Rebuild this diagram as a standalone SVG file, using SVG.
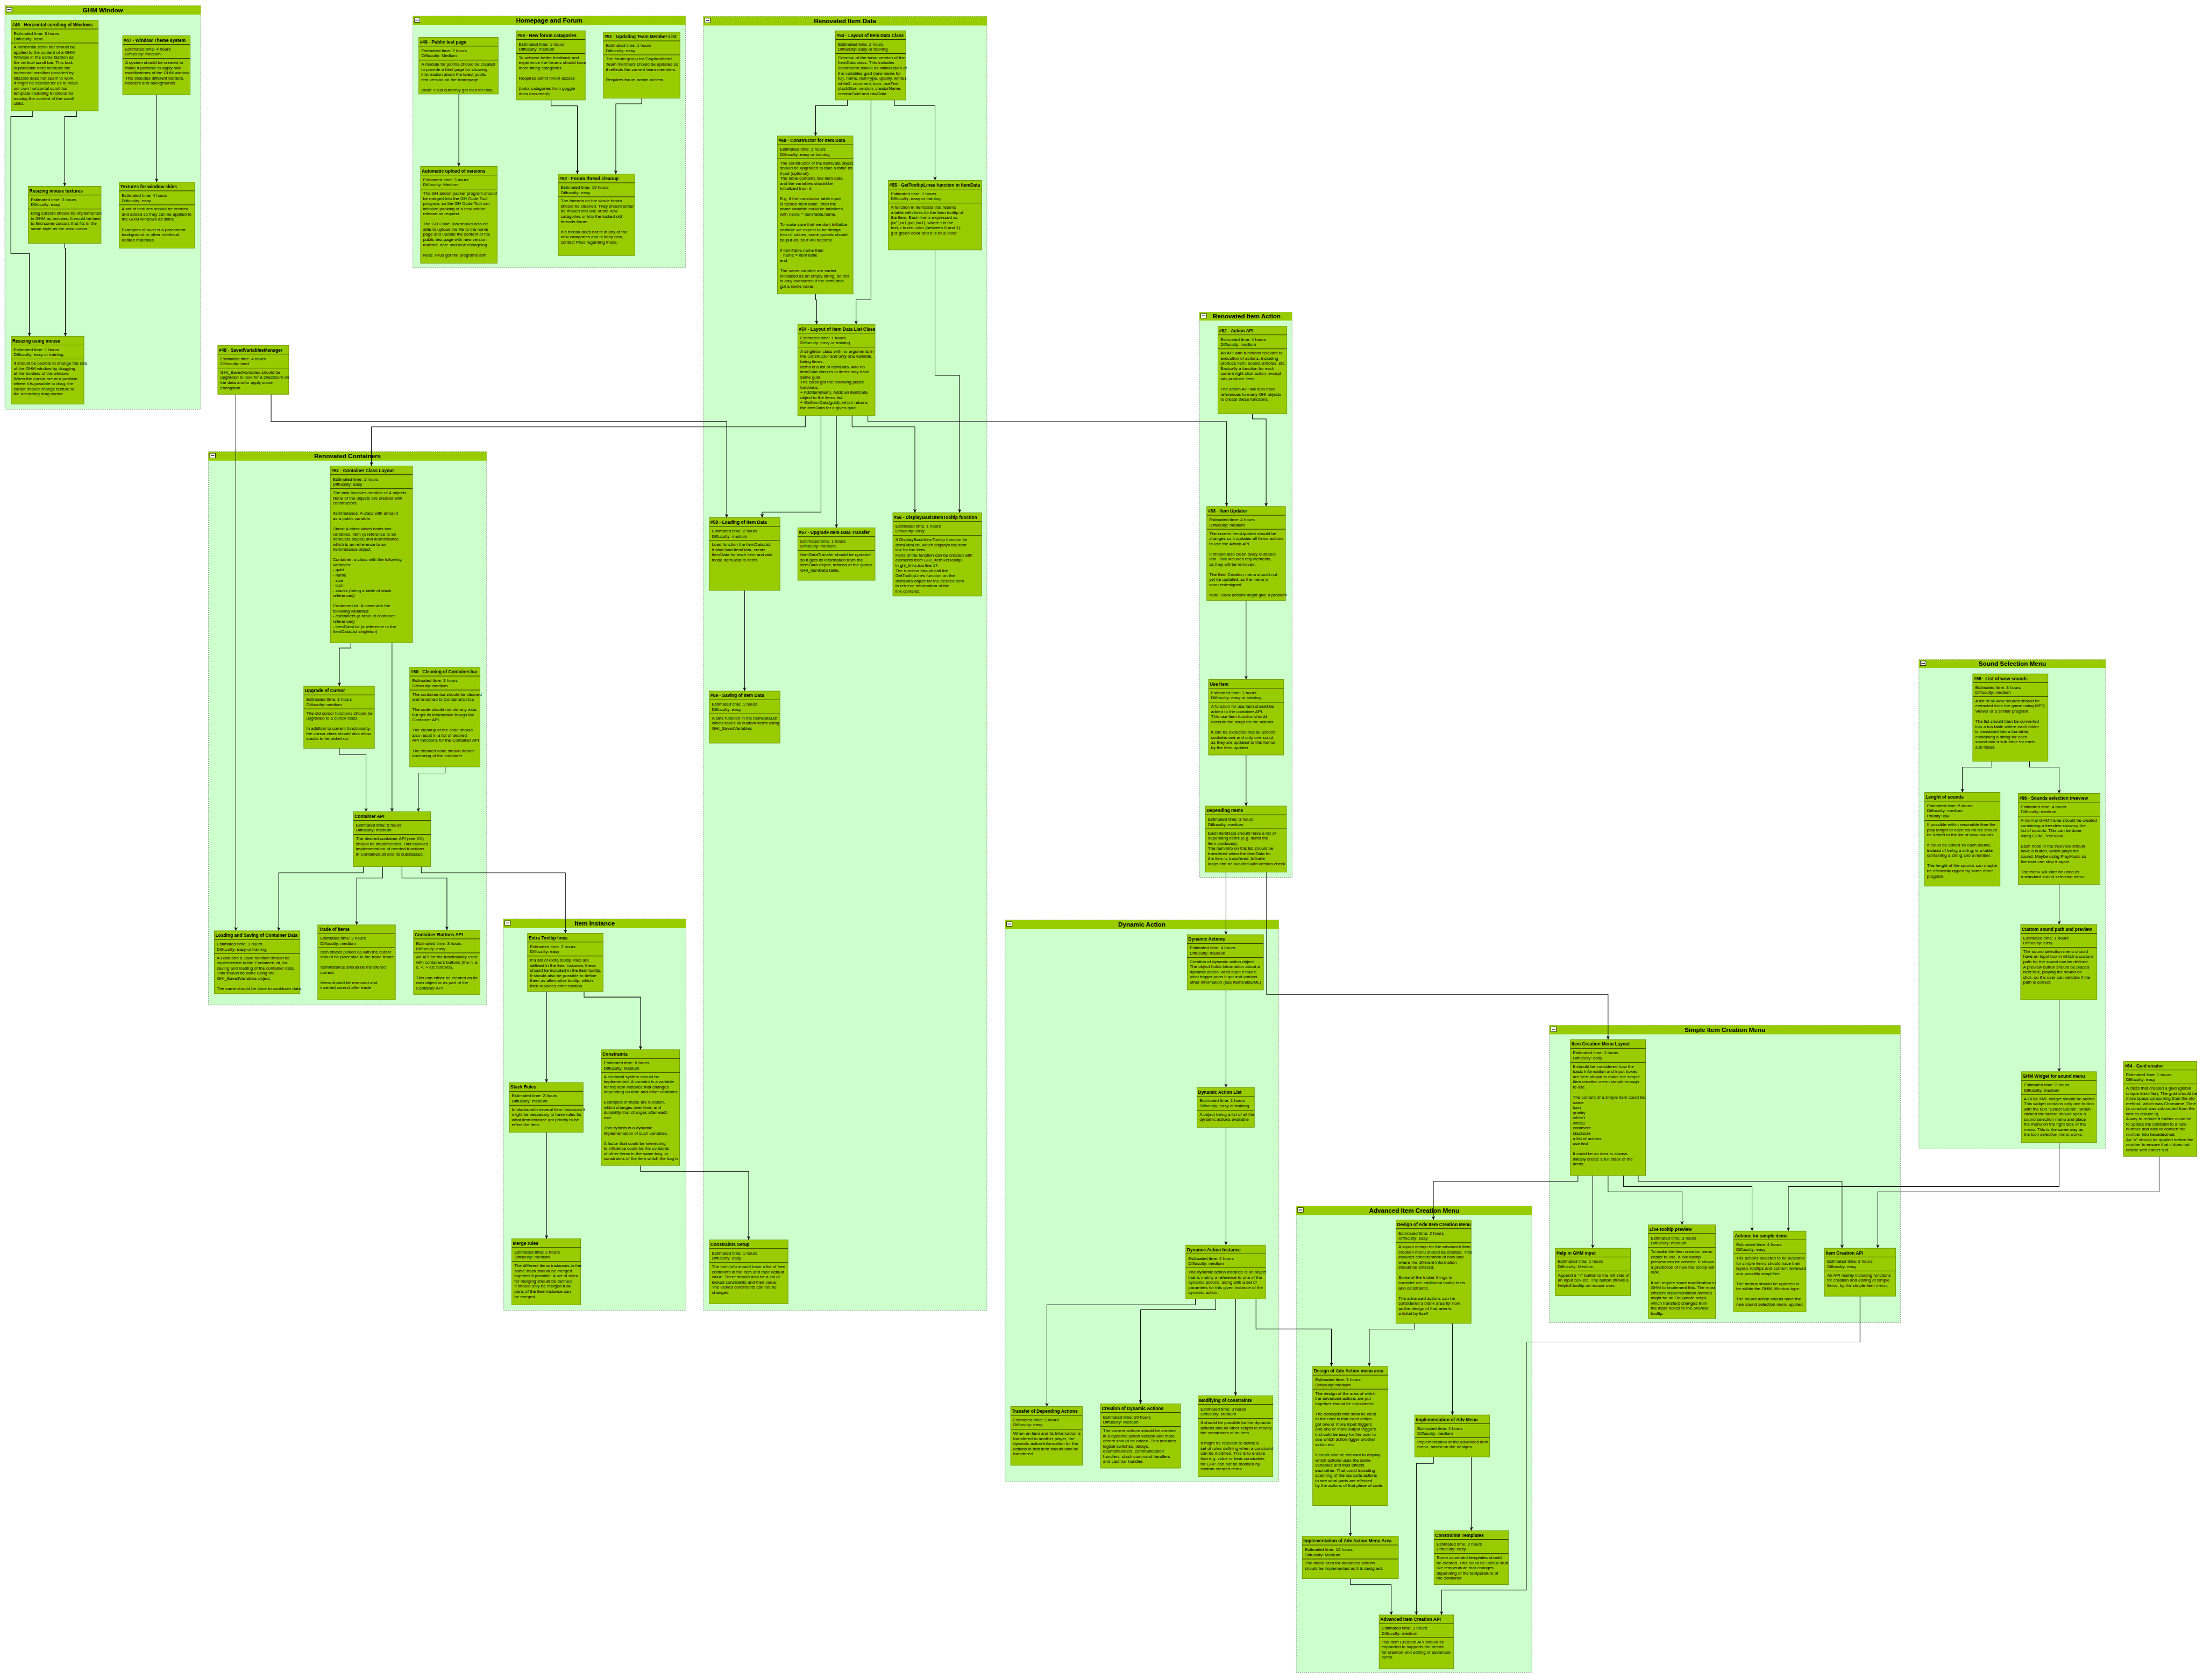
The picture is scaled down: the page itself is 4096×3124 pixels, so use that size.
<svg xmlns="http://www.w3.org/2000/svg" width="4096" height="3124" viewBox="0 0 4096 3124">
<defs>
<style>
.gb{fill:#ccffcc;stroke:#8a8a8a;stroke-width:1.5;stroke-dasharray:3 3}
.gh{fill:#99cc00}
.bt{fill:#fff;stroke:#000;stroke-width:1.2}
.bm{stroke:#000;stroke-width:2}
.gt{font:bold 18px "Liberation Sans",Arial,sans-serif;text-anchor:middle;fill:#000}
.nd{fill:#99cc00;stroke:#6f9400;stroke-width:1.5}
.sp{stroke:#000;stroke-width:1.2;fill:none}
.tt{font:bold 13px "Liberation Sans",Arial,sans-serif;fill:#000}
.dn{font-weight:normal}
.tx{font:12.4px "Liberation Sans",Arial,sans-serif;fill:#000}
.cn{fill:none;stroke:#000;stroke-width:1.6;marker-end:url(#ah)}
</style>
<marker id="ah" markerUnits="userSpaceOnUse" markerWidth="11" markerHeight="10" viewBox="0 0 11 10" refX="11" refY="5" orient="auto"><path d="M0,0L11,5L0,10L3.5,5Z" fill="#000"/></marker>
</defs>
<rect width="4096" height="3124" fill="#fff"/>
<g transform="scale(0.65)">
<!-- group backgrounds -->
<g id="grp-ghm"><rect class="gb" x="14" y="16" width="560" height="1155"/><rect class="gh" x="14" y="16" width="560" height="26"/><rect class="bt" x="18" y="21" width="16" height="13"/><path class="bm" d="M21,27.5h10"/><text class="gt" x="294" y="35">GHM Window</text></g>
<g id="grp-home"><rect class="gb" x="1181" y="46" width="780" height="720"/><rect class="gh" x="1181" y="46" width="780" height="26"/><rect class="bt" x="1185" y="51" width="16" height="13"/><path class="bm" d="M1188,57.5h10"/><text class="gt" x="1571" y="65">Homepage and Forum</text></g>
<g id="grp-data"><rect class="gb" x="2012" y="47" width="811" height="3702"/><rect class="gh" x="2012" y="47" width="811" height="26"/><rect class="bt" x="2016" y="52" width="16" height="13"/><path class="bm" d="M2019,58.5h10"/><text class="gt" x="2417" y="66">Renovated Item Data</text></g>
<g id="grp-action"><rect class="gb" x="3431" y="893" width="265" height="1617"/><rect class="gh" x="3431" y="893" width="265" height="24"/><rect class="bt" x="3435" y="897" width="16" height="13"/><path class="bm" d="M3438,903.5h10"/><text class="gt" x="3566" y="911">Renovated Item Action</text></g>
<g id="grp-cont"><rect class="gb" x="596" y="1292" width="796" height="1583"/><rect class="gh" x="596" y="1292" width="796" height="26"/><rect class="bt" x="600" y="1297" width="16" height="13"/><path class="bm" d="M603,1303.5h10"/><text class="gt" x="994" y="1311">Renovated Containers</text></g>
<g id="grp-inst"><rect class="gb" x="1440" y="2629" width="522" height="1120"/><rect class="gh" x="1440" y="2629" width="522" height="26"/><rect class="bt" x="1444" y="2634" width="16" height="13"/><path class="bm" d="M1447,2640.5h10"/><text class="gt" x="1701" y="2648">Item Instance</text></g>
<g id="grp-dyn"><rect class="gb" x="2875" y="2632" width="783" height="1607"/><rect class="gh" x="2875" y="2632" width="783" height="26"/><rect class="bt" x="2879" y="2637" width="16" height="13"/><path class="bm" d="M2882,2643.5h10"/><text class="gt" x="3266" y="2651">Dynamic Action</text></g>
<g id="grp-adv"><rect class="gb" x="3708" y="3450" width="674" height="1335"/><rect class="gh" x="3708" y="3450" width="674" height="26"/><rect class="bt" x="3712" y="3455" width="16" height="13"/><path class="bm" d="M3715,3461.5h10"/><text class="gt" x="4045" y="3469">Advanced Item Creation Menu</text></g>
<g id="grp-simple"><rect class="gb" x="4432" y="2933" width="1004" height="851"/><rect class="gh" x="4432" y="2933" width="1004" height="26"/><rect class="bt" x="4436" y="2938" width="16" height="13"/><path class="bm" d="M4439,2944.5h10"/><text class="gt" x="4934" y="2952">Simple Item Creation Menu</text></g>
<g id="grp-sound"><rect class="gb" x="5489" y="1887" width="534" height="1400"/><rect class="gh" x="5489" y="1887" width="534" height="24"/><rect class="bt" x="5493" y="1891" width="16" height="13"/><path class="bm" d="M5496,1897.5h10"/><text class="gt" x="5756" y="1905">Sound Selection Menu</text></g>

<!-- connectors -->
<g id="connectors">
<path class="cn" d="M93.5,317V333H31V725H84V962"/>
<path class="cn" d="M219.5,317V333H185V533"/>
<path class="cn" d="M185,696V710H187V962"/>
<path class="cn" d="M448,271V521"/>
<path class="cn" d="M1312.5,269V476"/>
<path class="cn" d="M1576.5,286V302.6H1651.5V498"/>
<path class="cn" d="M1835.5,281V297H1761.5V498"/>
<path class="cn" d="M2424,286V302H2333V389"/>
<path class="cn" d="M2491.4,286V857.6H2448.7V928"/>
<path class="cn" d="M2558.5,286V302H2674.6V516"/>
<path class="cn" d="M2333,841V857.6H2336V928"/>
<path class="cn" d="M2674.6,715V1073.7H2745V1467"/>
<path class="cn" d="M2303.5,1189V1221H1062.5V1333"/>
<path class="cn" d="M2348.3,1189V1465H2180V1481"/>
<path class="cn" d="M2392.5,1189V1510"/>
<path class="cn" d="M2437.3,1189V1221H2617V1467"/>
<path class="cn" d="M2482.6,1189V1206H3508.7V1449"/>
<path class="cn" d="M2129.7,1689V1977"/>
<path class="cn" d="M775.5,1128V1205.7H2078.7V1481"/>
<path class="cn" d="M674.6,1128V2663"/>
<path class="cn" d="M3582.3,1184V1198.6H3621.7V1449"/>
<path class="cn" d="M3564.3,1718V1944"/>
<path class="cn" d="M3564.3,2160V2306"/>
<path class="cn" d="M3506.8,2495V2674"/>
<path class="cn" d="M3623,2495V2845H4599.8V2974"/>
<path class="cn" d="M1003.6,1839V1854H970.7V1963"/>
<path class="cn" d="M1121.3,1839V2322"/>
<path class="cn" d="M970.7,2141V2158.5H1047V2322"/>
<path class="cn" d="M1273.4,2194V2211.5H1196.3V2322"/>
<path class="cn" d="M1039,2479V2497H797.3V2663"/>
<path class="cn" d="M1094.4,2479V2512H1020.4V2646"/>
<path class="cn" d="M1149.7,2479V2512H1278.4V2661"/>
<path class="cn" d="M1205,2479V2497H1617.3V2670"/>
<path class="cn" d="M1563.3,2836V3097"/>
<path class="cn" d="M1670.7,2836V2852.5H1832.2V3003"/>
<path class="cn" d="M1563.3,3239V3544"/>
<path class="cn" d="M1832.2,3334V3351H2141.5V3547"/>
<path class="cn" d="M3506.8,2832V3111"/>
<path class="cn" d="M3506.8,3225V3562"/>
<path class="cn" d="M3419.3,3716V3732.7H2994.6V4024"/>
<path class="cn" d="M3477.6,3716V3747H3262.5V4016"/>
<path class="cn" d="M3534.4,3716V3993"/>
<path class="cn" d="M3592.7,3716V3802H3808.5V3909"/>
<path class="cn" d="M4513.6,3363V3379.5H4100V3490"/>
<path class="cn" d="M4046.6,3786V3802.3H3916.7V3909"/>
<path class="cn" d="M4154.5,3786V4048"/>
<path class="cn" d="M3862.6,4307V4395"/>
<path class="cn" d="M4100.3,4168V4186.4H4051.4V4620"/>
<path class="cn" d="M4208.6,4168V4379"/>
<path class="cn" d="M3862.6,4516V4533.4H3979.5V4620"/>
<path class="cn" d="M5320.5,3708V3839.3H4366V4549H4123.3V4620"/>
<path class="cn" d="M4556,3363V3571"/>
<path class="cn" d="M4599.8,3363V3409.5H4811.5V3504"/>
<path class="cn" d="M4643.6,3363V3394.7H5011.6V3522"/>
<path class="cn" d="M4686,3363V3379.5H5269V3571"/>
<path class="cn" d="M5890,3269V3394.7H5115.3V3522"/>
<path class="cn" d="M6176,3308V3409.5H5371.4V3571"/>
<path class="cn" d="M5697.5,2178V2194.5H5613.4V2267"/>
<path class="cn" d="M5805.4,2178V2194.5H5890V2270"/>
<path class="cn" d="M5890,2530V2645"/>
<path class="cn" d="M5890,2860V3066"/>
</g>

<!-- GHM Window nodes -->
<g id="n46"><rect class="nd" x="32" y="58" width="249" height="259"/><text class="tt" x="35" y="75.5">#46<tspan class="dn"> - </tspan>Horizontal scrolling of Windows</text><path class="sp" d="M32,83H281M32,123H281"/><text class="tx" x="39" y="100">Estimated time: 5 hours<tspan x="39" dy="14.7">Diffuculty: hard</tspan></text><text class="tx" x="39" y="139">A horizontal scroll bar should be<tspan x="39" dy="14.7">applied to the content of a GHM</tspan><tspan x="39" dy="14.7">Window in the same fashion as</tspan><tspan x="39" dy="14.7">the vertical scroll bar. This task</tspan><tspan x="39" dy="14.7">is particular hard because the</tspan><tspan x="39" dy="14.7">horizontal scrollbar provided by</tspan><tspan x="39" dy="14.7">blizzard does not seem to work.</tspan><tspan x="39" dy="14.7">It might be needed for us to make</tspan><tspan x="39" dy="14.7">our own horizontal scroll bar</tspan><tspan x="39" dy="14.7">template including functions for</tspan><tspan x="39" dy="14.7">moving the content of the scroll</tspan><tspan x="39" dy="14.7">child.</tspan></text></g>
<g id="n47"><rect class="nd" x="351" y="102" width="193" height="169"/><text class="tt" x="354" y="119.5">#47<tspan class="dn"> - </tspan>Window Theme system</text><path class="sp" d="M351,127H544M351,167H544"/><text class="tx" x="358" y="144">Estimated time: 4 hours<tspan x="358" dy="14.7">Diffuculty: medium</tspan></text><text class="tx" x="358" y="183">A system should be created to<tspan x="358" dy="14.7">make it possible to apply skin</tspan><tspan x="358" dy="14.7">modificaitons of the GHM window.</tspan><tspan x="358" dy="14.7">This includes different borders,</tspan><tspan x="358" dy="14.7">headers and backgrounds.</tspan></text></g>
<g id="n-rmt"><rect class="nd" x="81" y="533" width="208" height="163"/><text class="tt" x="84" y="550.5">Resizing mouse textures</text><path class="sp" d="M81,558H289M81,598H289"/><text class="tx" x="88" y="575">Estimated time: 3 hours<tspan x="88" dy="14.7">Diffuculty: easy</tspan></text><text class="tx" x="88" y="614">Drag cursors should be implemented<tspan x="88" dy="14.7">in GHM as textures. It would be best</tspan><tspan x="88" dy="14.7">to find some cursors that fits in the</tspan><tspan x="88" dy="14.7">same style as the wow cursor.</tspan></text></g>
<g id="n-tws"><rect class="nd" x="341" y="521" width="216" height="189"/><text class="tt" x="344" y="538.5">Textures for window skins</text><path class="sp" d="M341,546H557M341,586H557"/><text class="tx" x="348" y="563">Estimated time: 4 hours<tspan x="348" dy="14.7">Diffuculty: easy</tspan></text><text class="tx" x="348" y="602">A set of textures should be created<tspan x="348" dy="14.7">and added so they can be applied to</tspan><tspan x="348" dy="14.7">the GHM windows as skins.</tspan><tspan x="348" dy="29.4">Examples of such is a parchment</tspan><tspan x="348" dy="14.7">background or other medieval</tspan><tspan x="348" dy="14.7">related materials.</tspan></text></g>
<g id="n-rum"><rect class="nd" x="32" y="962" width="208" height="194"/><text class="tt" x="35" y="979.5">Resizing using mouse</text><path class="sp" d="M32,987H240M32,1027H240"/><text class="tx" x="39" y="1004">Estimated time: 1 hours<tspan x="39" dy="14.7">Diffuculty: easy or training</tspan></text><text class="tx" x="39" y="1043">It should be posible to change the size<tspan x="39" dy="14.7">of the GHM window by dragging</tspan><tspan x="39" dy="14.7">at the borders of the window.</tspan><tspan x="39" dy="14.7">When the cursor are at a position</tspan><tspan x="39" dy="14.7">where it is possible to drag, the</tspan><tspan x="39" dy="14.7">cursor should change texture to</tspan><tspan x="39" dy="14.7">the according drag cursor.</tspan></text></g>

<!-- Homepage and Forum nodes -->
<g id="n49"><rect class="nd" x="1198" y="107" width="227" height="162"/><text class="tt" x="1201" y="124.5">#49<tspan class="dn"> - </tspan>Public test page</text><path class="sp" d="M1198,132H1425M1198,172H1425"/><text class="tx" x="1205" y="149">Estimated time: 2 hours<tspan x="1205" dy="14.7">Diffuculty: Medium</tspan></text><text class="tx" x="1205" y="188">A module for joomla should be created<tspan x="1205" dy="14.7">to provide a html page for showing</tspan><tspan x="1205" dy="14.7">information about the latest public</tspan><tspan x="1205" dy="14.7">test version on the homepage.</tspan><tspan x="1205" dy="29.4">(note: Pilus currently got files for this)</tspan></text></g>
<g id="n50"><rect class="nd" x="1477" y="88" width="197" height="198"/><text class="tt" x="1480" y="105.5">#50<tspan class="dn"> - </tspan>New forum catagories</text><path class="sp" d="M1477,113H1674M1477,153H1674"/><text class="tx" x="1484" y="130">Estimated time: 1 hours<tspan x="1484" dy="14.7">Diffuculty: medium</tspan></text><text class="tx" x="1484" y="169">To achieve better feedback and<tspan x="1484" dy="14.7">experience the forums should have</tspan><tspan x="1484" dy="14.7">more fitting catagories.</tspan><tspan x="1484" dy="29.4">Requires admit forum access</tspan><tspan x="1484" dy="29.4">(todo: catagories from goggle</tspan><tspan x="1484" dy="14.7">docs document)</tspan></text></g>
<g id="n51"><rect class="nd" x="1726" y="92" width="219" height="189"/><text class="tt" x="1729" y="109.5">#51<tspan class="dn"> - </tspan>Updating Team Member List</text><path class="sp" d="M1726,117H1945M1726,157H1945"/><text class="tx" x="1733" y="134">Estimated time: 1 hours<tspan x="1733" dy="14.7">Diffuculty: easy</tspan></text><text class="tx" x="1733" y="173">The forum group for Gryphonheart<tspan x="1733" dy="14.7">Team members should be updated so</tspan><tspan x="1733" dy="14.7">it reflects the current team members.</tspan><tspan x="1733" dy="29.4">Requires forum admin access.</tspan></text></g>
<g id="n-auv"><rect class="nd" x="1203" y="476" width="219" height="277"/><text class="tt" x="1206" y="493.5">Automatic upload of versions</text><path class="sp" d="M1203,501H1422M1203,541H1422"/><text class="tx" x="1210" y="518">Estimated time: 3 hours<tspan x="1210" dy="14.7">Diffuculty: Medium</tspan></text><text class="tx" x="1210" y="557">The GH addon packer program should<tspan x="1210" dy="14.7">be merged into the GH Code Tool</tspan><tspan x="1210" dy="14.7">program, so the GH Code Tool can</tspan><tspan x="1210" dy="14.7">initialize packing of a new addon</tspan><tspan x="1210" dy="14.7">release on request.</tspan><tspan x="1210" dy="29.4">The GH Code Tool should also be</tspan><tspan x="1210" dy="14.7">able to upload the file to the home</tspan><tspan x="1210" dy="14.7">page and update the content of the</tspan><tspan x="1210" dy="14.7">public test page with new version</tspan><tspan x="1210" dy="14.7">number, date and new changelog</tspan><tspan x="1210" dy="29.4">Note: Pilus got the programs atm</tspan></text></g>
<g id="n52"><rect class="nd" x="1597" y="498" width="219" height="233"/><text class="tt" x="1600" y="515.5">#52<tspan class="dn"> - </tspan>Forum thread cleanup</text><path class="sp" d="M1597,523H1816M1597,563H1816"/><text class="tx" x="1604" y="540">Estimated time: 10 hours<tspan x="1604" dy="14.7">Diffuculty: easy</tspan></text><text class="tx" x="1604" y="579">The threads on the whole forum<tspan x="1604" dy="14.7">should be cleaned. They should either</tspan><tspan x="1604" dy="14.7">be moved into one of the new</tspan><tspan x="1604" dy="14.7">catagories or into the locked old</tspan><tspan x="1604" dy="14.7">threads forum.</tspan><tspan x="1604" dy="29.4">If a thread does not fit in any of the</tspan><tspan x="1604" dy="14.7">new catagories and is fairly new,</tspan><tspan x="1604" dy="14.7">contact Pilus regarding those.</tspan></text></g>

<!-- Renovated Item Data nodes -->
<g id="n53"><rect class="nd" x="2390" y="88" width="201" height="198"/><text class="tt" x="2393" y="105.5">#53<tspan class="dn"> - </tspan>Layout of Item Data Class</text><path class="sp" d="M2390,113H2591M2390,153H2591"/><text class="tx" x="2397" y="130">Estimated time: 2 hours<tspan x="2397" dy="14.7">Diffuculty: easy or training</tspan></text><text class="tx" x="2397" y="169">Creation of the basic version of the<tspan x="2397" dy="14.7">ItemData class. This includes</tspan><tspan x="2397" dy="14.7">constructor aswell as initialization of</tspan><tspan x="2397" dy="14.7">the variables guid (new name for</tspan><tspan x="2397" dy="14.7">ID), name, itemType, quality, white1,</tspan><tspan x="2397" dy="14.7">white2, comment, icon, useText,</tspan><tspan x="2397" dy="14.7">stackSize, version, creatorName,</tspan><tspan x="2397" dy="14.7">creatorGuid and rawData</tspan></text></g>
<g id="n68"><rect class="nd" x="2224" y="389" width="216" height="452"/><text class="tt" x="2227" y="406.5">#68<tspan class="dn"> - </tspan>Constructor for Item Data</text><path class="sp" d="M2224,414H2440M2224,454H2440"/><text class="tx" x="2231" y="431">Estimated time: 1 hours<tspan x="2231" dy="14.7">Diffuculty: easy or training</tspan></text><text class="tx" x="2231" y="470">The constructor of the itemData object<tspan x="2231" dy="14.7">should be upgraded to take a table as</tspan><tspan x="2231" dy="14.7">input (optional).</tspan><tspan x="2231" dy="14.7">The table contains raw item data</tspan><tspan x="2231" dy="14.7">and the variables should be</tspan><tspan x="2231" dy="14.7">initialized from it.</tspan><tspan x="2231" dy="29.4">E.g. if the constuctor table input</tspan><tspan x="2231" dy="14.7">is taclled 'itemTable', then the</tspan><tspan x="2231" dy="14.7">name variable could be intialized</tspan><tspan x="2231" dy="14.7">with name = itemTable.name.</tspan><tspan x="2231" dy="29.4">To make sure that we dont initialize</tspan><tspan x="2231" dy="14.7">variable we expect to be strings</tspan><tspan x="2231" dy="14.7">into nil values, some guards should</tspan><tspan x="2231" dy="14.7">be put on, so it will become.</tspan><tspan x="2231" dy="29.4">if itemTable.name then</tspan><tspan x="2240" dy="14.7">name = itemTable</tspan><tspan x="2231" dy="14.7">end</tspan><tspan x="2231" dy="29.4">The name variable are earlier</tspan><tspan x="2231" dy="14.7">initialized as an empty string, so this</tspan><tspan x="2231" dy="14.7">is only overwrtten if the itemTable</tspan><tspan x="2231" dy="14.7">got a name value.</tspan></text></g>
<g id="n55"><rect class="nd" x="2541" y="516" width="267" height="199"/><text class="tt" x="2544" y="533.5">#55<tspan class="dn"> - </tspan>GetTooltipLines function in ItemData</text><path class="sp" d="M2541,541H2808M2541,581H2808"/><text class="tx" x="2548" y="558">Estimated time: 1 hours<tspan x="2548" dy="14.7">Diffuculty: easy or training</tspan></text><text class="tx" x="2548" y="597">A function in ItemData that returns<tspan x="2548" dy="14.7">a table with lines for the item tooltip of</tspan><tspan x="2548" dy="14.7">the item. Each line is expressed as</tspan><tspan x="2548" dy="14.7">{t="",r=1,g=1,b=1}, where t is the</tspan><tspan x="2548" dy="14.7">text, r is red color (between 0 and 1),</tspan><tspan x="2548" dy="14.7">g is green color and b is blue color.</tspan></text></g>
<g id="n54"><rect class="nd" x="2282" y="928" width="221" height="261"/><text class="tt" x="2285" y="945.5">#54<tspan class="dn"> - </tspan>Layout of Item Data List Class</text><path class="sp" d="M2282,953H2503M2282,993H2503"/><text class="tx" x="2289" y="970">Estimated time: 1 hours<tspan x="2289" dy="14.7">Diffuculty: easy or training</tspan></text><text class="tx" x="2289" y="1009">A singleton class with no arguments in<tspan x="2289" dy="14.7">the constructor and only one variable,</tspan><tspan x="2289" dy="14.7">being items.</tspan><tspan x="2289" dy="14.7">Items is a list of ItemData. And no</tspan><tspan x="2289" dy="14.7">itemData classes in items may have</tspan><tspan x="2289" dy="14.7">same guid.</tspan><tspan x="2289" dy="14.7">The class got the following public</tspan><tspan x="2289" dy="14.7">functions:</tspan><tspan x="2289" dy="14.7">+ AddItem(item). Adds an itemData</tspan><tspan x="2289" dy="14.7">object to the items list.</tspan><tspan x="2289" dy="14.7">+ GetItemData(guid), which returns</tspan><tspan x="2289" dy="14.7">the itemData for a given guid.</tspan></text></g>
<g id="n58"><rect class="nd" x="2029" y="1481" width="202" height="208"/><text class="tt" x="2032" y="1498.5">#58<tspan class="dn"> - </tspan>Loading of Item Data</text><path class="sp" d="M2029,1506H2231M2029,1546H2231"/><text class="tx" x="2036" y="1523">Estimated time: 2 hours<tspan x="2036" dy="14.7">Diffuculty: medium</tspan></text><text class="tx" x="2036" y="1562">Load function the itemDataList.<tspan x="2036" dy="14.7">It shal load itemData, create</tspan><tspan x="2036" dy="14.7">ItemData for each item and add</tspan><tspan x="2036" dy="14.7">those ItemData to items.</tspan></text></g>
<g id="n57"><rect class="nd" x="2282" y="1510" width="221" height="150"/><text class="tt" x="2285" y="1527.5">#57<tspan class="dn"> - </tspan>Upgrade Item Data Transfer</text><path class="sp" d="M2282,1535H2503M2282,1575H2503"/><text class="tx" x="2289" y="1552">Estimated time: 1 hours<tspan x="2289" dy="14.7">Diffuculty: medium</tspan></text><text class="tx" x="2289" y="1591">ItemDataTransfer should be updated<tspan x="2289" dy="14.7">so it gets its information from the</tspan><tspan x="2289" dy="14.7">ItemData object, instead of the global</tspan><tspan x="2289" dy="14.7">GHI_ItemData table.</tspan></text></g>
<g id="n56"><rect class="nd" x="2554" y="1467" width="254" height="238"/><text class="tt" x="2557" y="1484.5">#56<tspan class="dn"> - </tspan>DisplayBasicItemTooltip function</text><path class="sp" d="M2554,1492H2808M2554,1532H2808"/><text class="tx" x="2561" y="1509">Estimated time: 1 hours<tspan x="2561" dy="14.7">Diffuculty: easy</tspan></text><text class="tx" x="2561" y="1548">A DisplayBasicItemTooltip function for<tspan x="2561" dy="14.7">ItemDataList, which displays the item</tspan><tspan x="2561" dy="14.7">link for the item.</tspan><tspan x="2561" dy="14.7">Parts of the function can be created with</tspan><tspan x="2561" dy="14.7">elements from GHI_ItemRefTooltip</tspan><tspan x="2561" dy="14.7">in ghi_links.lua line 17.</tspan><tspan x="2561" dy="14.7">The function should call the</tspan><tspan x="2561" dy="14.7">GetTooltipLines function on the</tspan><tspan x="2561" dy="14.7">ItemData object for the desired item</tspan><tspan x="2561" dy="14.7">to retrieve information of the</tspan><tspan x="2561" dy="14.7">link contenst.</tspan></text></g>
<g id="n59"><rect class="nd" x="2029" y="1977" width="202" height="149"/><text class="tt" x="2032" y="1994.5">#59<tspan class="dn"> - </tspan>Saving of Item Data</text><path class="sp" d="M2029,2002H2231M2029,2042H2231"/><text class="tx" x="2036" y="2019">Estimated time: 1 hours<tspan x="2036" dy="14.7">Diffuculty: easy</tspan></text><text class="tx" x="2036" y="2058">A safe function in the ItemDataList<tspan x="2036" dy="14.7">which saves all custom items using</tspan><tspan x="2036" dy="14.7">GHI_SavedVariables</tspan></text></g>
<g id="n-cs"><rect class="nd" x="2029" y="3547" width="225" height="183"/><text class="tt" x="2032" y="3564.5">Constraints Setup</text><path class="sp" d="M2029,3572H2254M2029,3612H2254"/><text class="tx" x="2036" y="3589">Estimated time: 1 hours<tspan x="2036" dy="14.7">Diffuculty: easy</tspan></text><text class="tx" x="2036" y="3628">The item info should have a list of free<tspan x="2036" dy="14.7">contraints in the item and their default</tspan><tspan x="2036" dy="14.7">value. There should also be a list of</tspan><tspan x="2036" dy="14.7">locked constraints and their value.</tspan><tspan x="2036" dy="14.7">The locked constraints can not be</tspan><tspan x="2036" dy="14.7">changed.</tspan></text></g>

<!-- Renovated Item Action nodes -->
<g id="n62"><rect class="nd" x="3484" y="933" width="197" height="251"/><text class="tt" x="3487" y="950.5">#62<tspan class="dn"> - </tspan>Action API</text><path class="sp" d="M3484,958H3681M3484,998H3681"/><text class="tx" x="3491" y="975">Estimated time: 4 hours<tspan x="3491" dy="14.7">Diffuculty: medium</tspan></text><text class="tx" x="3491" y="1014">An API with functions relevant to<tspan x="3491" dy="14.7">execution of actions, including</tspan><tspan x="3491" dy="14.7">produce item, sound, emotes, etc.</tspan><tspan x="3491" dy="14.7">Basically a function for each</tspan><tspan x="3491" dy="14.7">current right click action, except</tspan><tspan x="3491" dy="14.7">adv produce item.</tspan><tspan x="3491" dy="29.4">The action API will also have</tspan><tspan x="3491" dy="14.7">references to many GHI objects</tspan><tspan x="3491" dy="14.7">to create these functions.</tspan></text></g>
<g id="n63"><rect class="nd" x="3452" y="1449" width="225" height="269"/><text class="tt" x="3455" y="1466.5">#63<tspan class="dn"> - </tspan>Item Updater</text><path class="sp" d="M3452,1474H3677M3452,1514H3677"/><text class="tx" x="3459" y="1491">Estimated time: 4 hours<tspan x="3459" dy="14.7">Diffuculty: medium</tspan></text><text class="tx" x="3459" y="1530">The current itemUpdater should be<tspan x="3459" dy="14.7">changes so it updates all items actions</tspan><tspan x="3459" dy="14.7">to use the Action API.</tspan><tspan x="3459" dy="29.4">It should also clean away outdated</tspan><tspan x="3459" dy="14.7">info. This includes requirements,</tspan><tspan x="3459" dy="14.7">as they will be removed.</tspan><tspan x="3459" dy="29.4">The Item Creation menu should not</tspan><tspan x="3459" dy="14.7">yet be updated, as the menu is</tspan><tspan x="3459" dy="14.7">soon redesigned.</tspan><tspan x="3459" dy="29.4">Note: Book actions might give a problem</tspan></text></g>
<g id="n-ui"><rect class="nd" x="3457" y="1944" width="215" height="216"/><text class="tt" x="3460" y="1961.5">Use Item</text><path class="sp" d="M3457,1969H3672M3457,2009H3672"/><text class="tx" x="3464" y="1986">Estimated time: 1 hours<tspan x="3464" dy="14.7">Diffuculty: easy or training</tspan></text><text class="tx" x="3464" y="2025">A function for use item should be<tspan x="3464" dy="14.7">added to the container API.</tspan><tspan x="3464" dy="14.7">This use item function should</tspan><tspan x="3464" dy="14.7">execute the script for the actions.</tspan><tspan x="3464" dy="29.4">It can be expected that all actions</tspan><tspan x="3464" dy="14.7">contains one and only one script,</tspan><tspan x="3464" dy="14.7">as they are updated to this format</tspan><tspan x="3464" dy="14.7">by the Item updater</tspan></text></g>
<g id="n-di"><rect class="nd" x="3448" y="2306" width="232" height="189"/><text class="tt" x="3451" y="2323.5">Depending Items</text><path class="sp" d="M3448,2331H3680M3448,2371H3680"/><text class="tx" x="3455" y="2348">Estimated time: 3 hours<tspan x="3455" dy="14.7">Diffuculty: medium</tspan></text><text class="tx" x="3455" y="2387">Each itemData should have a list of<tspan x="3455" dy="14.7">depending items (e.g. items the</tspan><tspan x="3455" dy="14.7">item produces).</tspan><tspan x="3455" dy="14.7">The item info on this list should be</tspan><tspan x="3455" dy="14.7">transfered when the itemData for</tspan><tspan x="3455" dy="14.7">the item is transfered. Infinete</tspan><tspan x="3455" dy="14.7">loops can be avoided with version check.</tspan></text></g>

<!-- standalone #48 -->
<g id="n48"><rect class="nd" x="623" y="988" width="203" height="140"/><text class="tt" x="626" y="1005.5">#48<tspan class="dn"> - </tspan>SavedVariablesManager</text><path class="sp" d="M623,1013H826M623,1053H826"/><text class="tx" x="630" y="1030">Estimated time: 4 hours<tspan x="630" dy="14.7">Diffuculty: hard</tspan></text><text class="tx" x="630" y="1069">GHI_SavedVariables should be<tspan x="630" dy="14.7">upgraded to look for a checksum on</tspan><tspan x="630" dy="14.7">the data and/or apply some</tspan><tspan x="630" dy="14.7">encryption</tspan></text></g>

<!-- Renovated Containers nodes -->
<g id="n61"><rect class="nd" x="945" y="1333" width="235" height="506"/><text class="tt" x="948" y="1350.5">#61<tspan class="dn"> - </tspan>Container Class Layout</text><path class="sp" d="M945,1358H1180M945,1398H1180"/><text class="tx" x="952" y="1375">Estimated time: 1 hours<tspan x="952" dy="14.7">Diffuculty: easy</tspan></text><text class="tx" x="952" y="1414">The task involves creation of 4 objects.<tspan x="952" dy="14.7">None of the objects are created with</tspan><tspan x="952" dy="14.7">constructors.</tspan><tspan x="952" dy="29.4">ItemInstance: A class with amount</tspan><tspan x="952" dy="14.7">as a public variable.</tspan><tspan x="952" dy="29.4">Stack: A class which holds two</tspan><tspan x="952" dy="14.7">variables. item (a reference to an</tspan><tspan x="952" dy="14.7">ItemData object) and itemInstance</tspan><tspan x="952" dy="14.7">which is an refrerence to an</tspan><tspan x="952" dy="14.7">ItemInstance object.</tspan><tspan x="952" dy="29.4">Container: a class with the following</tspan><tspan x="952" dy="14.7">variables:</tspan><tspan x="952" dy="14.7">- guid</tspan><tspan x="952" dy="14.7">- name</tspan><tspan x="952" dy="14.7">- size</tspan><tspan x="952" dy="14.7">- icon</tspan><tspan x="952" dy="14.7">- stacks (being a table of stack</tspan><tspan x="952" dy="14.7">references)</tspan><tspan x="952" dy="29.4">ContainerList: A class with the</tspan><tspan x="952" dy="14.7">following variables:</tspan><tspan x="952" dy="14.7">- containers (a table of container</tspan><tspan x="952" dy="14.7">references)</tspan><tspan x="952" dy="14.7">- itemDataList (a reference to the</tspan><tspan x="952" dy="14.7">ItemDataList singleton)</tspan></text></g>
<g id="n60"><rect class="nd" x="1172" y="1909" width="201" height="285"/><text class="tt" x="1175" y="1926.5">#60<tspan class="dn"> - </tspan>Cleaning of Container.lua</text><path class="sp" d="M1172,1934H1373M1172,1974H1373"/><text class="tx" x="1179" y="1951">Estimated time: 3 hours<tspan x="1179" dy="14.7">Diffuculty: medium</tspan></text><text class="tx" x="1179" y="1990">The container.lua should be cleaned<tspan x="1179" dy="14.7">and renamed to ContainerUI.lua</tspan><tspan x="1179" dy="29.4">The code should not old any data,</tspan><tspan x="1179" dy="14.7">but get its information trough the</tspan><tspan x="1179" dy="14.7">Container API.</tspan><tspan x="1179" dy="29.4">The cleanup of the code should</tspan><tspan x="1179" dy="14.7">also result in a list of desired</tspan><tspan x="1179" dy="14.7">API functions for the Container API</tspan><tspan x="1179" dy="29.4">The cleaned code should handle</tspan><tspan x="1179" dy="14.7">anchoring of the container.</tspan></text></g>
<g id="n-uc"><rect class="nd" x="869" y="1963" width="202" height="178"/><text class="tt" x="872" y="1980.5">Upgrade of Cursor</text><path class="sp" d="M869,1988H1071M869,2028H1071"/><text class="tx" x="876" y="2005">Estimated time: 3 hours<tspan x="876" dy="14.7">Diffuculty: medium</tspan></text><text class="tx" x="876" y="2044">The old cursor functions should be<tspan x="876" dy="14.7">upgraded to a cursor class.</tspan><tspan x="876" dy="29.4">In addition to current functionality,</tspan><tspan x="876" dy="14.7">the cursor class should also allow</tspan><tspan x="876" dy="14.7">stacks to be picket up.</tspan></text></g>
<g id="n-capi"><rect class="nd" x="1011" y="2322" width="221" height="157"/><text class="tt" x="1014" y="2339.5">Container API</text><path class="sp" d="M1011,2347H1232M1011,2387H1232"/><text class="tx" x="1018" y="2364">Estimated time: 5 hours<tspan x="1018" dy="14.7">Diffuculty: medium</tspan></text><text class="tx" x="1018" y="2403">The desired container API (see XX)<tspan x="1018" dy="14.7">should be implemented. This involves</tspan><tspan x="1018" dy="14.7">implementation of needed functions</tspan><tspan x="1018" dy="14.7">in ContainerList and its subclasses.</tspan></text></g>
<g id="n-lsc"><rect class="nd" x="613" y="2663" width="245" height="180"/><text class="tt" x="616" y="2680.5">Loading and Saving of Container Data</text><path class="sp" d="M613,2688H858M613,2728H858"/><text class="tx" x="620" y="2705">Estimated time: 1 hours<tspan x="620" dy="14.7">Diffuculty: easy or training</tspan></text><text class="tx" x="620" y="2744">A Load and a Save function should be<tspan x="620" dy="14.7">implemented in the ContainerList, for</tspan><tspan x="620" dy="14.7">saving and loading of the container data.</tspan><tspan x="620" dy="14.7">This should be done using the</tspan><tspan x="620" dy="14.7">GHI_SavedVariables object.</tspan><tspan x="620" dy="29.4">The same should be done to cooldown data</tspan></text></g>
<g id="n-ti"><rect class="nd" x="909" y="2646" width="222" height="214"/><text class="tt" x="912" y="2663.5">Trade of items</text><path class="sp" d="M909,2671H1131M909,2711H1131"/><text class="tx" x="916" y="2688">Estimated time: 3 hours<tspan x="916" dy="14.7">Diffuculty: medium</tspan></text><text class="tx" x="916" y="2727">Item stacks picked up with the cursor<tspan x="916" dy="14.7">should be placeable in the trade frame.</tspan><tspan x="916" dy="29.4">ItemInstance should be transfered</tspan><tspan x="916" dy="14.7">correct.</tspan><tspan x="916" dy="29.4">Items should be removed and</tspan><tspan x="916" dy="14.7">inserted correct after trade</tspan></text></g>
<g id="n-cba"><rect class="nd" x="1183" y="2661" width="190" height="184"/><text class="tt" x="1186" y="2678.5">Container Buttons API</text><path class="sp" d="M1183,2686H1373M1183,2726H1373"/><text class="tx" x="1190" y="2703">Estimated time: 3 hours<tspan x="1190" dy="14.7">Diffuculty: easy</tspan></text><text class="tx" x="1190" y="2742">An API for the functionality used<tspan x="1190" dy="14.7">with containers buttons (the n, e,</tspan><tspan x="1190" dy="14.7">c, &lt;, &gt;  etc buttons).</tspan><tspan x="1190" dy="29.4">This can either be created as its</tspan><tspan x="1190" dy="14.7">own object or as part of the</tspan><tspan x="1190" dy="14.7">Container API</tspan></text></g>

<!-- Item Instance nodes -->
<g id="n-etl"><rect class="nd" x="1509" y="2670" width="216" height="166"/><text class="tt" x="1512" y="2687.5">Extra Tooltip lines</text><path class="sp" d="M1509,2695H1725M1509,2735H1725"/><text class="tx" x="1516" y="2712">Estimated time: 2 hours<tspan x="1516" dy="14.7">Diffuculty: easy</tspan></text><text class="tx" x="1516" y="2751">If a set of extra tooltip lines are<tspan x="1516" dy="14.7">defined in the item instance, these</tspan><tspan x="1516" dy="14.7">should be included in the item tooltip.</tspan><tspan x="1516" dy="14.7">It should also be possible to define</tspan><tspan x="1516" dy="14.7">them as alternative tooltip, which</tspan><tspan x="1516" dy="14.7">then replaces other tooltips.</tspan></text></g>
<g id="n-sr"><rect class="nd" x="1457" y="3097" width="211" height="142"/><text class="tt" x="1460" y="3114.5">Stack Rules</text><path class="sp" d="M1457,3122H1668M1457,3162H1668"/><text class="tx" x="1464" y="3139">Estimated time: 2 hours<tspan x="1464" dy="14.7">Diffuculty: medium</tspan></text><text class="tx" x="1464" y="3178">In stacks with several item instances it<tspan x="1464" dy="14.7">might be nessesary to have rules for</tspan><tspan x="1464" dy="14.7">what itemInstance got priority to be</tspan><tspan x="1464" dy="14.7">effect the item.</tspan></text></g>
<g id="n-mr"><rect class="nd" x="1464" y="3544" width="197" height="189"/><text class="tt" x="1467" y="3561.5">Merge rules</text><path class="sp" d="M1464,3569H1661M1464,3609H1661"/><text class="tx" x="1471" y="3586">Estimated time: 2 hours<tspan x="1471" dy="14.7">Diffuculty: medium</tspan></text><text class="tx" x="1471" y="3625">The different items instances in the<tspan x="1471" dy="14.7">same stack should be merged</tspan><tspan x="1471" dy="14.7">together if possible. A set of rules</tspan><tspan x="1471" dy="14.7">for merging should be defined.</tspan><tspan x="1471" dy="14.7">It should only be merged if all</tspan><tspan x="1471" dy="14.7">parts of the item instance can</tspan><tspan x="1471" dy="14.7">be merged.</tspan></text></g>
<g id="n-con"><rect class="nd" x="1720" y="3003" width="224" height="331"/><text class="tt" x="1723" y="3020.5">Constraints</text><path class="sp" d="M1720,3028H1944M1720,3068H1944"/><text class="tx" x="1727" y="3045">Estimated time: 6 hours<tspan x="1727" dy="14.7">Diffuculty: Medium</tspan></text><text class="tx" x="1727" y="3084">A contraint system should be<tspan x="1727" dy="14.7">implemented. A containt is a variable</tspan><tspan x="1727" dy="14.7">for the item instance that changes</tspan><tspan x="1727" dy="14.7">depending on time and other variables.</tspan><tspan x="1727" dy="29.4">Examples of these are duration,</tspan><tspan x="1727" dy="14.7">which changes over time, and</tspan><tspan x="1727" dy="14.7">durability that changes after each</tspan><tspan x="1727" dy="14.7">use.</tspan><tspan x="1727" dy="29.4">This system is a dynamic</tspan><tspan x="1727" dy="14.7">implementation of such variables.</tspan><tspan x="1727" dy="29.4">A factor that could be interesting</tspan><tspan x="1727" dy="14.7">to influence could be the containts</tspan><tspan x="1727" dy="14.7">of other items in the same bag, or</tspan><tspan x="1727" dy="14.7">constraints of the item which the bag is</tspan></text></g>

<!-- Dynamic Action nodes -->
<g id="n-da"><rect class="nd" x="3396" y="2674" width="218" height="158"/><text class="tt" x="3399" y="2691.5">Dynamic Actions</text><path class="sp" d="M3396,2699H3614M3396,2739H3614"/><text class="tx" x="3403" y="2716">Estimated time: 4 hours<tspan x="3403" dy="14.7">Diffuculty: medium</tspan></text><text class="tx" x="3403" y="2755">Creation of dynamic action object.<tspan x="3403" dy="14.7">The object holds information about a</tspan><tspan x="3403" dy="14.7">dynamic action, what input it takes,</tspan><tspan x="3403" dy="14.7">what trigger ports it got and various</tspan><tspan x="3403" dy="14.7">other information (see ItemDataUML)</tspan></text></g>
<g id="n-dal"><rect class="nd" x="3424" y="3111" width="164" height="114"/><text class="tt" x="3427" y="3128.5">Dynamic Action List</text><path class="sp" d="M3424,3136H3588M3424,3176H3588"/><text class="tx" x="3431" y="3153">Estimated time: 1 hours<tspan x="3431" dy="14.7">Diffuculty: easy or training</tspan></text><text class="tx" x="3431" y="3192">A object being a list of all the<tspan x="3431" dy="14.7">dynamic actions available</tspan></text></g>
<g id="n-dai"><rect class="nd" x="3392" y="3562" width="228" height="154"/><text class="tt" x="3395" y="3579.5">Dynamic Action Instance</text><path class="sp" d="M3392,3587H3620M3392,3627H3620"/><text class="tx" x="3399" y="3604">Estimated time: 2 hours<tspan x="3399" dy="14.7">Diffuculty: medium</tspan></text><text class="tx" x="3399" y="3643">The dynamic action instance is an object<tspan x="3399" dy="14.7">that is mainly a reference to one of the</tspan><tspan x="3399" dy="14.7">dynamic actions, along with a set of</tspan><tspan x="3399" dy="14.7">paramters for this given instance of the</tspan><tspan x="3399" dy="14.7">dynamic action.</tspan></text></g>
<g id="n-tda"><rect class="nd" x="2891" y="4024" width="205" height="168"/><text class="tt" x="2894" y="4041.5">Transfer of Depending Actions</text><path class="sp" d="M2891,4049H3096M2891,4089H3096"/><text class="tx" x="2898" y="4066">Estimated time: 2 hours<tspan x="2898" dy="14.7">Diffuculty: easy</tspan></text><text class="tx" x="2898" y="4105">When an item and its information is<tspan x="2898" dy="14.7">transfered to another player, the</tspan><tspan x="2898" dy="14.7">dynamic action information for the</tspan><tspan x="2898" dy="14.7">actions in that item should also be</tspan><tspan x="2898" dy="14.7">transfered.</tspan></text></g>
<g id="n-cda"><rect class="nd" x="3148" y="4016" width="229" height="184"/><text class="tt" x="3151" y="4033.5">Creation of Dynamic Actions</text><path class="sp" d="M3148,4041H3377M3148,4081H3377"/><text class="tx" x="3155" y="4058">Estimated time: 20 hours<tspan x="3155" dy="14.7">Diffuculty: Medium</tspan></text><text class="tx" x="3155" y="4097">The current actions should be created<tspan x="3155" dy="14.7">in a dynamic action version and more</tspan><tspan x="3155" dy="14.7">others should be added. This includes</tspan><tspan x="3155" dy="14.7">logical switches, delays,</tspan><tspan x="3155" dy="14.7">eventshandlers, communication</tspan><tspan x="3155" dy="14.7">handlers, slash command handlers</tspan><tspan x="3155" dy="14.7">and cast bar handler.</tspan></text></g>
<g id="n-moc"><rect class="nd" x="3427" y="3993" width="214" height="231"/><text class="tt" x="3430" y="4010.5">Modifying of constraints</text><path class="sp" d="M3427,4018H3641M3427,4058H3641"/><text class="tx" x="3434" y="4035">Estimated time: 3 hours<tspan x="3434" dy="14.7">Diffuculty: Medium</tspan></text><text class="tx" x="3434" y="4074">It should be possible for the dynamic<tspan x="3434" dy="14.7">actions and all other scripts to modify</tspan><tspan x="3434" dy="14.7">the constraints of an item.</tspan><tspan x="3434" dy="29.4">It might be relevant to define a</tspan><tspan x="3434" dy="14.7">set of rules defining when a constraint</tspan><tspan x="3434" dy="14.7">can be modified. This is to ensure</tspan><tspan x="3434" dy="14.7">that e.g. value or heat constraints</tspan><tspan x="3434" dy="14.7">for GHP can not be modfied by</tspan><tspan x="3434" dy="14.7">custom created items.</tspan></text></g>

<!-- Advanced Item Creation Menu nodes -->
<g id="n-daic"><rect class="nd" x="3993" y="3490" width="215" height="296"/><text class="tt" x="3996" y="3507.5">Design of Adv Item Creation Menu</text><path class="sp" d="M3993,3515H4208M3993,3555H4208"/><text class="tx" x="4000" y="3532">Estimated time: 2 hours<tspan x="4000" dy="14.7">Diffuculty: easy</tspan></text><text class="tx" x="4000" y="3571">A layout design for the advanced item<tspan x="4000" dy="14.7">creation menu should be created. This</tspan><tspan x="4000" dy="14.7">includes concideration of how and</tspan><tspan x="4000" dy="14.7">where the different information</tspan><tspan x="4000" dy="14.7">should be entered.</tspan><tspan x="4000" dy="29.4">Some of the tricker things to</tspan><tspan x="4000" dy="14.7">consider are additional tooltip texts</tspan><tspan x="4000" dy="14.7">and constraints.</tspan><tspan x="4000" dy="29.4">The advanced actions can be</tspan><tspan x="4000" dy="14.7">considered a blank area for now</tspan><tspan x="4000" dy="14.7">as the design of that area is</tspan><tspan x="4000" dy="14.7">a ticket by itself</tspan></text></g>
<g id="n-daam"><rect class="nd" x="3755" y="3909" width="215" height="398"/><text class="tt" x="3758" y="3926.5">Design of Adv Action menu area</text><path class="sp" d="M3755,3934H3970M3755,3974H3970"/><text class="tx" x="3762" y="3951">Estimated time: 3 hours<tspan x="3762" dy="14.7">Diffuculty: medium</tspan></text><text class="tx" x="3762" y="3990">The design of the area of which<tspan x="3762" dy="14.7">the advanced actions are put</tspan><tspan x="3762" dy="14.7">together should be considered.</tspan><tspan x="3762" dy="29.4">The concepts that shall be clear</tspan><tspan x="3762" dy="14.7">to the user is that each action</tspan><tspan x="3762" dy="14.7">got one or more input triggers</tspan><tspan x="3762" dy="14.7">and one or more output triggers.</tspan><tspan x="3762" dy="14.7">It should be easy for the user to</tspan><tspan x="3762" dy="14.7">see which action tigger another</tspan><tspan x="3762" dy="14.7">action etc.</tspan><tspan x="3762" dy="29.4">It could also be relevant to display</tspan><tspan x="3762" dy="14.7">which actions uses the same</tspan><tspan x="3762" dy="14.7">variables and thus effects</tspan><tspan x="3762" dy="14.7">eachother. That could including</tspan><tspan x="3762" dy="14.7">scanning of the lua code actions</tspan><tspan x="3762" dy="14.7">to see what parts are effected</tspan><tspan x="3762" dy="14.7">by the actions of that piece of code.</tspan></text></g>
<g id="n-iam"><rect class="nd" x="4047" y="4048" width="214" height="120"/><text class="tt" x="4050" y="4065.5">Implementation of Adv Menu</text><path class="sp" d="M4047,4073H4261M4047,4113H4261"/><text class="tx" x="4054" y="4090">Estimated time: 4 hours<tspan x="4054" dy="14.7">Diffuculty: medium</tspan></text><text class="tx" x="4054" y="4129">Implementation of the advanced item<tspan x="4054" dy="14.7">menu, based on the designs.</tspan></text></g>
<g id="n-iaam"><rect class="nd" x="3725" y="4395" width="275" height="121"/><text class="tt" x="3728" y="4412.5">Implementation of Adv Action Menu Area</text><path class="sp" d="M3725,4420H4000M3725,4460H4000"/><text class="tx" x="3732" y="4437">Estimated time: 12 hours<tspan x="3732" dy="14.7">Diffuculty: Medium</tspan></text><text class="tx" x="3732" y="4476">The menu area for advanced actions<tspan x="3732" dy="14.7">should be implemented as it is designed.</tspan></text></g>
<g id="n-ct"><rect class="nd" x="4102" y="4379" width="213" height="154"/><text class="tt" x="4105" y="4396.5">Constraints Templates</text><path class="sp" d="M4102,4404H4315M4102,4444H4315"/><text class="tx" x="4109" y="4421">Estimated time: 2 hours<tspan x="4109" dy="14.7">Diffuculty: easy</tspan></text><text class="tx" x="4109" y="4460">Some constraint templates should<tspan x="4109" dy="14.7">be created. This could be usefull stuff</tspan><tspan x="4109" dy="14.7">like temperature that changes</tspan><tspan x="4109" dy="14.7">depending of the temperature of</tspan><tspan x="4109" dy="14.7">the container.</tspan></text></g>
<g id="n-aapi"><rect class="nd" x="3945" y="4620" width="213" height="154"/><text class="tt" x="3948" y="4637.5">Advanced Item Creation API</text><path class="sp" d="M3945,4645H4158M3945,4685H4158"/><text class="tx" x="3952" y="4662">Estimated time: 3 hours<tspan x="3952" dy="14.7">Diffuculty: medium</tspan></text><text class="tx" x="3952" y="4701">The Item Creation API should be<tspan x="3952" dy="14.7">expanded to supports the needs</tspan><tspan x="3952" dy="14.7">for creation and editing of advanced</tspan><tspan x="3952" dy="14.7">items.</tspan></text></g>

<!-- Simple Item Creation Menu nodes -->
<g id="n-icml"><rect class="nd" x="4492" y="2974" width="215" height="389"/><text class="tt" x="4495" y="2991.5">Item Creation Menu Layout</text><path class="sp" d="M4492,2999H4707M4492,3039H4707"/><text class="tx" x="4499" y="3016">Estimated time: 1 hours<tspan x="4499" dy="14.7">Diffuculty: easy</tspan></text><text class="tx" x="4499" y="3055">It should be considered how the<tspan x="4499" dy="14.7">basic information and input boxes</tspan><tspan x="4499" dy="14.7">are best shown to make the simple</tspan><tspan x="4499" dy="14.7">item creation menu simple enough</tspan><tspan x="4499" dy="14.7">to use.</tspan><tspan x="4499" dy="29.4">The content of a simple item could be:</tspan><tspan x="4499" dy="14.7">name</tspan><tspan x="4499" dy="14.7">icon</tspan><tspan x="4499" dy="14.7">quality</tspan><tspan x="4499" dy="14.7">white1</tspan><tspan x="4499" dy="14.7">white2</tspan><tspan x="4499" dy="14.7">comment</tspan><tspan x="4499" dy="14.7">stacksize</tspan><tspan x="4499" dy="14.7">a list of actions</tspan><tspan x="4499" dy="14.7">use text</tspan><tspan x="4499" dy="29.4">It could be an idea to always</tspan><tspan x="4499" dy="14.7">initially create a full stack of the</tspan><tspan x="4499" dy="14.7">items.</tspan></text></g>
<g id="n-hgi"><rect class="nd" x="4449" y="3571" width="215" height="136"/><text class="tt" x="4452" y="3588.5">Help in GHM input</text><path class="sp" d="M4449,3596H4664M4449,3636H4664"/><text class="tx" x="4456" y="3613">Estimated time: 1 hours<tspan x="4456" dy="14.7">Diffuculty: Medium</tspan></text><text class="tx" x="4456" y="3652">Append a "?" button to the left side of<tspan x="4456" dy="14.7">an input box etc. The button shows a</tspan><tspan x="4456" dy="14.7">helpfull tooltip on mouse over.</tspan></text></g>
<g id="n-ltp"><rect class="nd" x="4715" y="3504" width="192" height="268"/><text class="tt" x="4718" y="3521.5">Live tooltip preview</text><path class="sp" d="M4715,3529H4907M4715,3569H4907"/><text class="tx" x="4722" y="3546">Estimated time: 3 hours<tspan x="4722" dy="14.7">Diffuculty: medium</tspan></text><text class="tx" x="4722" y="3585">To make the item creation menu<tspan x="4722" dy="14.7">easier to use, a live tooltip</tspan><tspan x="4722" dy="14.7">preview can be created. It shows</tspan><tspan x="4722" dy="14.7">a prediction of how the tooltip will</tspan><tspan x="4722" dy="14.7">look.</tspan><tspan x="4722" dy="29.4">It will require some modification in</tspan><tspan x="4722" dy="14.7">GHM to implement this. The most</tspan><tspan x="4722" dy="14.7">efficient implementation method</tspan><tspan x="4722" dy="14.7">might be an OnUpdate script,</tspan><tspan x="4722" dy="14.7">which transfers changes from</tspan><tspan x="4722" dy="14.7">the input boxes to the preview</tspan><tspan x="4722" dy="14.7">tooltip.</tspan></text></g>
<g id="n-afs"><rect class="nd" x="4959" y="3522" width="207" height="231"/><text class="tt" x="4962" y="3539.5">Actions for simple items</text><path class="sp" d="M4959,3547H5166M4959,3587H5166"/><text class="tx" x="4966" y="3564">Estimated time: 4 hours<tspan x="4966" dy="14.7">Diffuculty: easy</tspan></text><text class="tx" x="4966" y="3603">The actions selected to be available<tspan x="4966" dy="14.7">for simple items should have their</tspan><tspan x="4966" dy="14.7">layout, tooltips and content reviewed</tspan><tspan x="4966" dy="14.7">and possibly simplified.</tspan><tspan x="4966" dy="29.4">The menus should be updated to</tspan><tspan x="4966" dy="14.7">be within the GHM_Window type.</tspan><tspan x="4966" dy="29.4">The sound action should have the</tspan><tspan x="4966" dy="14.7">new sound selection menu applied.</tspan></text></g>
<g id="n-icapi"><rect class="nd" x="5219" y="3571" width="203" height="137"/><text class="tt" x="5222" y="3588.5">Item Creation API</text><path class="sp" d="M5219,3596H5422M5219,3636H5422"/><text class="tx" x="5226" y="3613">Estimated time: 2 hours<tspan x="5226" dy="14.7">Diffuculty: easy</tspan></text><text class="tx" x="5226" y="3652">An API mainly including functions<tspan x="5226" dy="14.7">for creation and editing of simple</tspan><tspan x="5226" dy="14.7">items, by the simple item menu.</tspan></text></g>

<!-- Sound Selection Menu nodes -->
<g id="n65"><rect class="nd" x="5643" y="1928" width="215" height="250"/><text class="tt" x="5646" y="1945.5">#65<tspan class="dn"> - </tspan>List of wow sounds</text><path class="sp" d="M5643,1953H5858M5643,1993H5858"/><text class="tx" x="5650" y="1970">Estimated time: 3 hours<tspan x="5650" dy="14.7">Diffuculty: medium</tspan></text><text class="tx" x="5650" y="2009">A list of all wow sounds should be<tspan x="5650" dy="14.7">extracted from the game using MPQ</tspan><tspan x="5650" dy="14.7">Viewer or a similar program.</tspan><tspan x="5650" dy="29.4">The list should then be converted</tspan><tspan x="5650" dy="14.7">into a lua table where each folder</tspan><tspan x="5650" dy="14.7">is translated into a lua table,</tspan><tspan x="5650" dy="14.7">containing a string for each</tspan><tspan x="5650" dy="14.7">sound and a sub table for each</tspan><tspan x="5650" dy="14.7">sub folder.</tspan></text></g>
<g id="n-los"><rect class="nd" x="5505" y="2267" width="216" height="268"/><text class="tt" x="5508" y="2284.5">Lenght of sounds</text><path class="sp" d="M5505,2292H5721M5505,2347H5721"/><text class="tx" x="5512" y="2309">Estimated time: 5 hours<tspan x="5512" dy="14.7">Diffuculty: medium</tspan><tspan x="5512" dy="14.7">Priority: low</tspan></text><text class="tx" x="5512" y="2363">If possible within resonable time the<tspan x="5512" dy="14.7">play lenght of each sound file should</tspan><tspan x="5512" dy="14.7">be added to the list of wow sounds.</tspan><tspan x="5512" dy="29.4">It could be added so each sound,</tspan><tspan x="5512" dy="14.7">instead of being a string, is a table</tspan><tspan x="5512" dy="14.7">containing a string and a number.</tspan><tspan x="5512" dy="29.4">The lenght of the sounds can maybe</tspan><tspan x="5512" dy="14.7">be efficiently ripped by some other</tspan><tspan x="5512" dy="14.7">program.</tspan></text></g>
<g id="n66"><rect class="nd" x="5773" y="2270" width="234" height="260"/><text class="tt" x="5776" y="2287.5">#66<tspan class="dn"> - </tspan>Sounds selection treeview</text><path class="sp" d="M5773,2295H6007M5773,2335H6007"/><text class="tx" x="5780" y="2312">Estimated time: 4 hours<tspan x="5780" dy="14.7">Diffuculty: medium</tspan></text><text class="tx" x="5780" y="2351">A normal GHM frame should be created<tspan x="5780" dy="14.7">containing a treeview showing the</tspan><tspan x="5780" dy="14.7">list of sounds. This can be done</tspan><tspan x="5780" dy="14.7">using GHM_TreeView.</tspan><tspan x="5780" dy="29.4">Each node in the treeView should</tspan><tspan x="5780" dy="14.7">have a button, which plays the</tspan><tspan x="5780" dy="14.7">sound. Maybe using PlayMusic so</tspan><tspan x="5780" dy="14.7">the user can stop it again.</tspan><tspan x="5780" dy="29.4">The menu will later be used as</tspan><tspan x="5780" dy="14.7">a standard sound selection menu.</tspan></text></g>
<g id="n-csp"><rect class="nd" x="5780" y="2645" width="218" height="215"/><text class="tt" x="5783" y="2662.5">Custom sound path and preview</text><path class="sp" d="M5780,2670H5998M5780,2710H5998"/><text class="tx" x="5787" y="2687">Estimated time: 1 hours<tspan x="5787" dy="14.7">Diffuculty: easy</tspan></text><text class="tx" x="5787" y="2726">The sound selection menu should<tspan x="5787" dy="14.7">have an input box in which a custom</tspan><tspan x="5787" dy="14.7">path for the sound can be defined.</tspan><tspan x="5787" dy="14.7">A preview button should be placed</tspan><tspan x="5787" dy="14.7">next to it, playing the sound on</tspan><tspan x="5787" dy="14.7">click, so the user can validate if the</tspan><tspan x="5787" dy="14.7">path is correct.</tspan></text></g>
<g id="n-gws"><rect class="nd" x="5782" y="3066" width="215" height="203"/><text class="tt" x="5785" y="3083.5">GHM Widget for sound menu</text><path class="sp" d="M5782,3091H5997M5782,3131H5997"/><text class="tx" x="5789" y="3108">Estimated time: 2 hours<tspan x="5789" dy="14.7">Diffuculty: medium</tspan></text><text class="tx" x="5789" y="3147">A GHM XML widget should be added.<tspan x="5789" dy="14.7">This widget contains only one button</tspan><tspan x="5789" dy="14.7">with the text "Select Sound". When</tspan><tspan x="5789" dy="14.7">clicked the button should open a</tspan><tspan x="5789" dy="14.7">sound selection menu and place</tspan><tspan x="5789" dy="14.7">the menu on the right side of the</tspan><tspan x="5789" dy="14.7">menu. This is the same way as</tspan><tspan x="5789" dy="14.7">the icon selection menu works.</tspan></text></g>

<!-- standalone #64 -->
<g id="n64"><rect class="nd" x="6074" y="3036" width="210" height="272"/><text class="tt" x="6077" y="3053.5">#64<tspan class="dn"> - </tspan>Guid creator</text><path class="sp" d="M6074,3061H6284M6074,3101H6284"/><text class="tx" x="6081" y="3078">Estimated time: 1 hours<tspan x="6081" dy="14.7">Diffuculty: easy</tspan></text><text class="tx" x="6081" y="3117">A class that created a guid (global<tspan x="6081" dy="14.7">unique identifier). The guid should be</tspan><tspan x="6081" dy="14.7">more space consuming than the old</tspan><tspan x="6081" dy="14.7">method, which was Charname_Time</tspan><tspan x="6081" dy="14.7">(a constant was subtracted from the</tspan><tspan x="6081" dy="14.7">time to reduce it).</tspan><tspan x="6081" dy="14.7">A way to reduce it further could be</tspan><tspan x="6081" dy="14.7">to update the constant to a new</tspan><tspan x="6081" dy="14.7">number and also to convert the</tspan><tspan x="6081" dy="14.7">number into hexadecimal.</tspan><tspan x="6081" dy="14.7">An "x" should be applied before the</tspan><tspan x="6081" dy="14.7">number to ensure that it does not</tspan><tspan x="6081" dy="14.7">collide with earlier IDs.</tspan></text></g>
</g>
</svg>
